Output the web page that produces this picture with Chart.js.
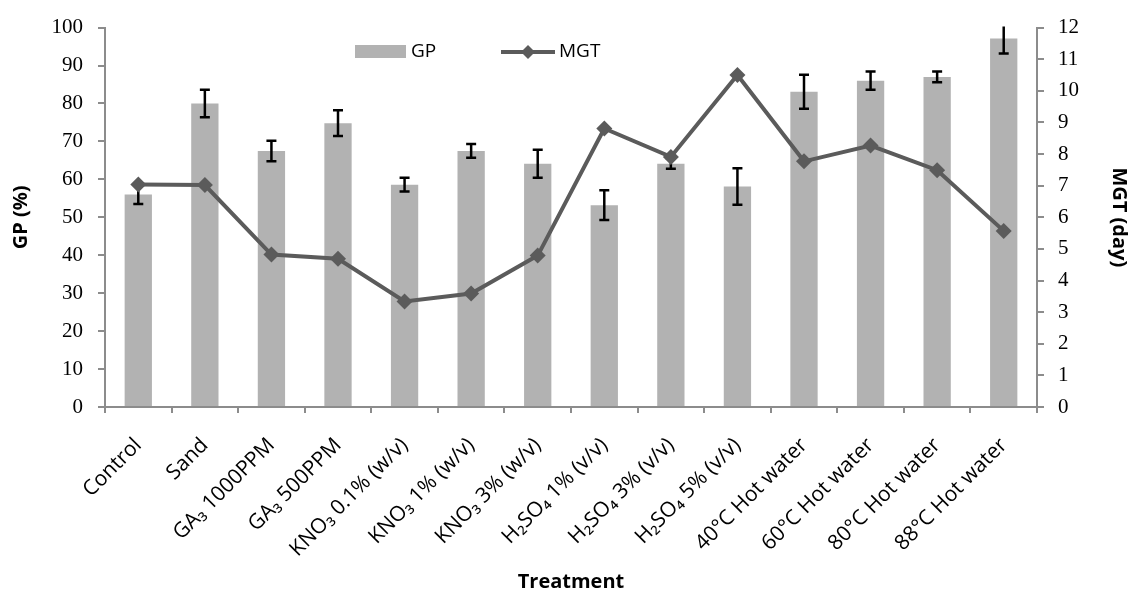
<!DOCTYPE html>
<html>
<head>
<meta charset="utf-8">
<script src="https://cdn.jsdelivr.net/npm/chart.js@4"></script>
<style>
  html, body { margin: 0; padding: 0; background: #fff; }
  #wrap { width: 1133px; height: 594px; }
</style>
</head>
<body>
<div id="wrap"><canvas id="myChart" width="1133" height="594"></canvas></div>
<script>
var treatments = ['Control', 'Sand', 'GA\u2083 1000PPM', 'GA\u2083 500PPM', 'KNO\u2083 0.1% (w/v)',
  'KNO\u2083 1% (w/v)', 'KNO\u2083 3% (w/v)', 'H\u2082SO\u2084 1% (v/v)', 'H\u2082SO\u2084 3% (v/v)',
  'H\u2082SO\u2084 5% (v/v)', '40\u00b0C Hot water', '60\u00b0C Hot water', '80\u00b0C Hot water', '88\u00b0C Hot water'];

// germination percentage (%) and its error
var gpValues = [56, 80, 67.5, 74.8, 58.6, 67.5, 64.1, 53.2, 64.1, 58.1, 83.1, 86, 87, 97.1];
var gpErrors = [2.5, 3.6, 2.7, 3.4, 1.8, 1.8, 3.7, 3.9, 1.3, 4.8, 4.5, 2.4, 1.4, 3.9];

// mean germination time (day)
var mgtValues = [7.04, 7.02, 4.82, 4.69, 3.34, 3.59, 4.79, 8.81, 7.91, 10.5, 7.77, 8.27, 7.49, 5.57];

var gpTicks = [0, 10, 20, 30, 40, 50, 60, 70, 80, 90, 100];
var mgtTicks = [0, 1, 2, 3, 4, 5, 6, 7, 8, 9, 10, 11, 12];

var barColor = '#b2b2b2';
var lineColor = '#5b5b5b';
var axisColor = '#8c8c8c';
var labelFont = "'Open Sans', sans-serif";
var tickFont = "'Liberation Serif', serif";

// error bars on the GP bars, drawn right after the bars so the line sits on top
var errorBars = {
  id: 'errorBars',
  afterDatasetDraw: function(chart, args) {
    if (args.index !== 0) return;
    var ctx = chart.ctx;
    var y = chart.scales.y;
    var area = chart.chartArea;
    ctx.save();
    ctx.beginPath();
    ctx.rect(area.left, area.top - 1, area.right - area.left, area.bottom - area.top + 1);
    ctx.clip();
    ctx.strokeStyle = '#000';
    ctx.lineWidth = 2.5;
    args.meta.data.forEach(function(bar, i) {
      var hi = y.getPixelForValue(gpValues[i] + gpErrors[i]);
      var lo = y.getPixelForValue(gpValues[i] - gpErrors[i]);
      ctx.beginPath();
      ctx.moveTo(bar.x, hi); ctx.lineTo(bar.x, lo);
      ctx.moveTo(bar.x - 5, hi); ctx.lineTo(bar.x + 5, hi);
      ctx.moveTo(bar.x - 5, lo); ctx.lineTo(bar.x + 5, lo);
      ctx.stroke();
    });
    ctx.restore();
  }
};

// legend sits inside the plot, left of centre
var ownLegend = {
  id: 'ownLegend',
  afterDraw: function(chart) {
    var ctx = chart.ctx;
    var ds = chart.data.datasets;
    ctx.save();
    ctx.font = "19px " + labelFont;
    ctx.textBaseline = 'middle';
    ctx.fillStyle = ds[0].backgroundColor;
    ctx.fillRect(355, 45, 51, 13);
    ctx.fillStyle = '#000';
    ctx.fillText(ds[0].label, 411, 52);

    ctx.strokeStyle = ds[1].borderColor;
    ctx.lineWidth = 4;
    ctx.beginPath();
    ctx.moveTo(501, 52); ctx.lineTo(555, 52);
    ctx.stroke();
    ctx.fillStyle = ds[1].borderColor;
    ctx.beginPath();
    ctx.moveTo(528, 45); ctx.lineTo(535, 52); ctx.lineTo(528, 59); ctx.lineTo(521, 52);
    ctx.closePath();
    ctx.fill();
    ctx.fillStyle = '#000';
    ctx.fillText(ds[1].label, 559, 52);
    ctx.restore();
  }
};

var ctx = document.getElementById('myChart').getContext('2d');
var myChart = new Chart(ctx, {
  data: {
    labels: treatments,
    datasets: [{
      type: 'bar',
      label: 'GP',
      data: gpValues,
      backgroundColor: barColor,
      yAxisID: 'y',
      order: 1,
      barPercentage: 0.41,
      categoryPercentage: 1
    }, {
      type: 'line',
      label: 'MGT',
      data: mgtValues,
      borderColor: lineColor,
      backgroundColor: lineColor,
      borderWidth: 4,
      pointStyle: 'rectRot',
      pointRadius: 8,
      pointBackgroundColor: lineColor,
      pointBorderWidth: 0,
      tension: 0,
      yAxisID: 'y1',
      order: 0
    }]
  },
  options: {
    responsive: false,
    animation: false,
    layout: { padding: { top: 22, left: 0, right: 0, bottom: 0 } },
    plugins: {
      legend: { display: false },
      tooltip: { enabled: false }
    },
    scales: {
      x: {
        offset: true,
        grid: { offset: true, drawOnChartArea: false, color: axisColor, tickLength: 6, lineWidth: 2 },
        border: { color: axisColor, width: 2 },
        ticks: {
          minRotation: 45, maxRotation: 45, autoSkip: false, padding: 20,
          color: '#000', font: { family: labelFont, size: 21 }
        },
        title: {
          display: true, text: 'Treatment', color: '#000', padding: { top: 0, bottom: 0 },
          font: { family: labelFont, size: 20, weight: 'bold' }
        },
        afterFit: function(s) { s.height = 187; }
      },
      y: {
        position: 'left',
        min: 0, max: 100,
        afterBuildTicks: function(s) { s.ticks = gpTicks.map(function(v) { return { value: v }; }); },
        grid: { drawOnChartArea: false, color: axisColor, tickLength: 7, lineWidth: 2 },
        border: { color: axisColor, width: 2 },
        ticks: { padding: 15, color: '#000', font: { family: tickFont, size: 21 } },
        title: {
          display: true, text: 'GP (%)', color: '#000', padding: { top: 9, bottom: 0 },
          font: { family: labelFont, size: 20, weight: 'bold' }
        },
        afterFit: function(s) { s.width = 105; }
      },
      y1: {
        position: 'right',
        min: 0, max: 12,
        afterBuildTicks: function(s) { s.ticks = mgtTicks.map(function(v) { return { value: v }; }); },
        grid: { drawOnChartArea: false, color: axisColor, tickLength: 7, lineWidth: 2 },
        border: { color: axisColor, width: 2 },
        ticks: { padding: 14, color: '#000', font: { family: tickFont, size: 21 } },
        title: {
          display: true, text: 'MGT (day)', color: '#000', padding: { top: 2, bottom: 0 },
          font: { family: labelFont, size: 20, weight: 'bold' }
        },
        afterFit: function(s) { s.width = 96; }
      }
    }
  },
  plugins: [errorBars, ownLegend]
});
</script>
</body>
</html>
